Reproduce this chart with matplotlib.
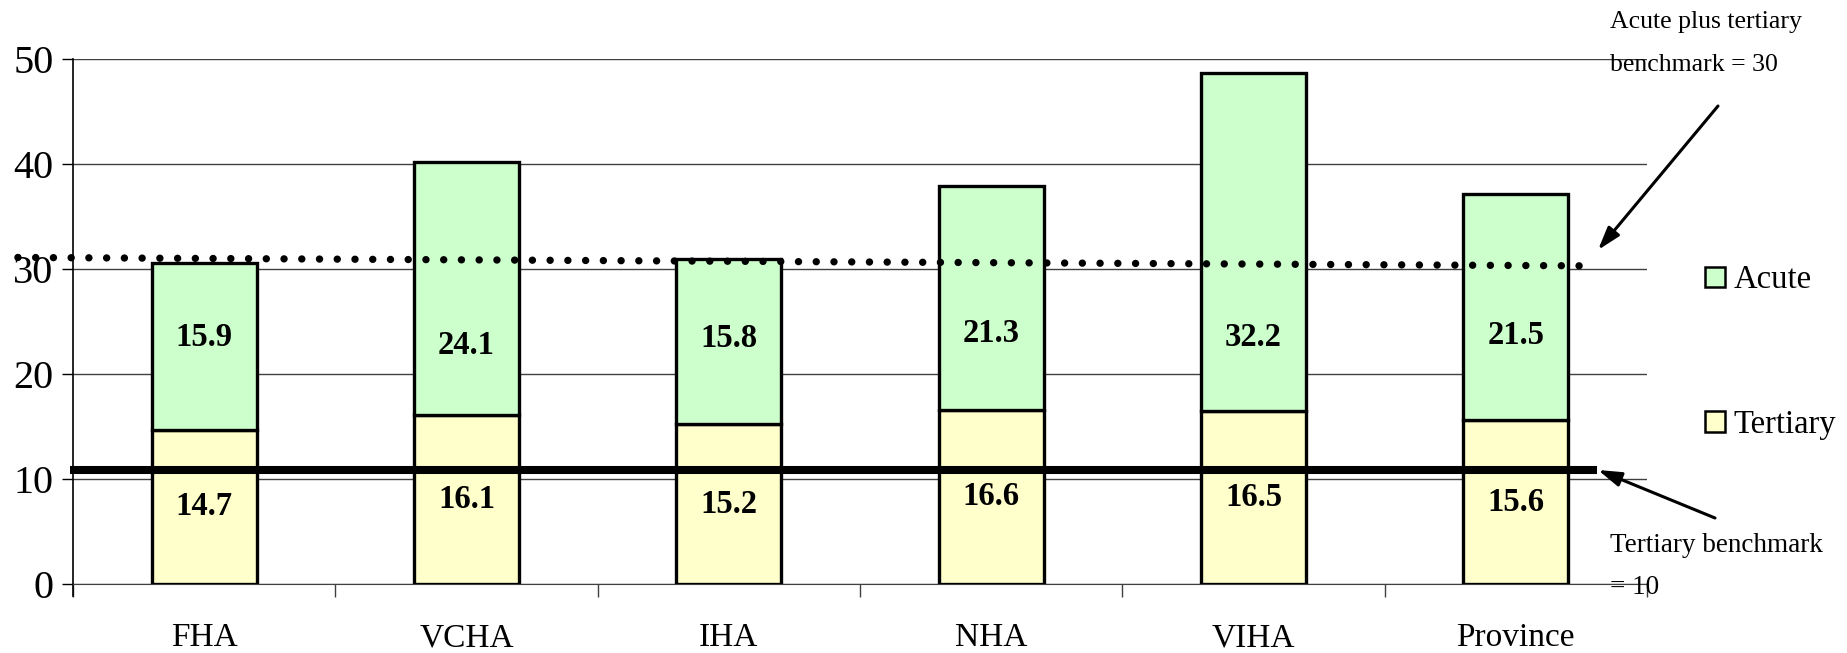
import matplotlib
matplotlib.use("Agg")
import matplotlib.pyplot as plt
from matplotlib.patches import Patch, FancyArrowPatch
import numpy as np

# ---- data ----
categories = ["FHA", "VCHA", "IHA", "NHA", "VIHA", "Province"]
tertiary = [14.7, 16.1, 15.2, 16.6, 16.5, 15.6]
acute = [15.9, 24.1, 15.8, 21.3, 32.2, 21.5]
acute_label_y = [23.5, 22.7, 23.4, 23.9, 23.5, 23.7]
yticks = [0, 10, 20, 30, 40, 50]
# benchmark lines as drawn in the original (start/end)
acute_bench_x = [-0.71, 5.27]
acute_bench_y = [31.1, 30.3]
tert_bench_x = [-0.51, 5.31]
tert_bench_y = [10.86, 10.86]

W, H = 1847, 653
plt.rcParams['font.family'] = ['Liberation Serif', 'DejaVu Serif']
fig = plt.figure(figsize=(W / 100, H / 100), dpi=100)
ax = fig.add_axes([73 / W, 1 - 584 / H, (1647 - 73) / W, (584 - 59) / H])

def fp(x, y):
    return (x / W, 1 - y / H)

x = np.arange(len(categories))
bw = 0.40
acute_col = "#CCFFCC"
tert_col = "#FFFFCC"

ax.set_axisbelow(True)
ax.yaxis.grid(True, color="#404040", lw=1.0)
ax.bar(x, tertiary, bw, color=tert_col, edgecolor="black", lw=2.4, zorder=3)
ax.bar(x, acute, bw, bottom=tertiary, color=acute_col, edgecolor="black", lw=2.4, zorder=3)

for xi, t, a, ly in zip(x, tertiary, acute, acute_label_y):
    ax.text(xi, t / 2, f"{t:.1f}", ha="center", va="center", fontsize=23.5,
            fontweight="bold", zorder=5)
    ax.text(xi, ly, f"{a:.1f}", ha="center", va="center", fontsize=23.5,
            fontweight="bold", zorder=5)

# benchmark lines
ax.plot(tert_bench_x, tert_bench_y, color="black", lw=5.8, solid_capstyle="butt",
        zorder=6, clip_on=False)
ax.plot(acute_bench_x, acute_bench_y, color="black", lw=5.3,
        linestyle=(0, (0.01, 2.4)), dash_capstyle="round", zorder=6, clip_on=False)

ax.set_xlim(-0.5, len(categories) - 0.5)
ax.set_ylim(0, 50)
ax.set_yticks(yticks)
ax.tick_params(axis="y", direction="out", length=8, width=1, labelsize=29, pad=6)
ax.set_xticks(np.arange(-0.5, len(categories), 1.0))
ax.set_xticklabels([])
ax.set_xticks(x, minor=True)
ax.set_xticklabels(categories, minor=True)
ax.tick_params(axis="x", which="major", direction="out", length=9, width=1, color="#404040")
ax.tick_params(axis="x", which="minor", length=0, labelsize=24, pad=28)

for s in ["top", "right"]:
    ax.spines[s].set_visible(False)
ax.spines["bottom"].set_color("#404040")
ax.spines["left"].set_bounds(-1.14, 50)
ax.spines["left"].set_linewidth(1.2)

# legend
handles = [Patch(facecolor=acute_col, edgecolor="black", lw=1.8, label="Acute"),
           Patch(facecolor=tert_col, edgecolor="black", lw=1.8, label="Tertiary")]
fig.legend(handles=handles, loc="upper left", bbox_to_anchor=fp(1705, 265),
           frameon=False, fontsize=23.5, handlelength=0.6, handleheight=0.6,
           handletextpad=0.28, labelspacing=3.49, borderpad=0, borderaxespad=0)

# annotations
fig.text(*fp(1610, 22), "Acute plus tertiary", fontsize=18.5, va="center", ha="left")
fig.text(*fp(1610, 65), "benchmark = 30", fontsize=18.5, va="center", ha="left")
fig.text(*fp(1610, 545), "Tertiary benchmark", fontsize=19.5, va="center", ha="left")
fig.text(*fp(1610, 588), "= 10", fontsize=19.5, va="center", ha="left")
arrow = dict(arrowstyle="-|>,head_length=0.7,head_width=0.22", color="black", lw=2.2,
             mutation_scale=20, shrinkA=0, shrinkB=0)
fig.add_artist(FancyArrowPatch(fp(1718, 106), fp(1598, 250),
               transform=fig.transFigure, **arrow))
fig.add_artist(FancyArrowPatch(fp(1715, 518), fp(1598, 470),
               transform=fig.transFigure, **arrow))

fig.savefig("out.png", dpi=100)
